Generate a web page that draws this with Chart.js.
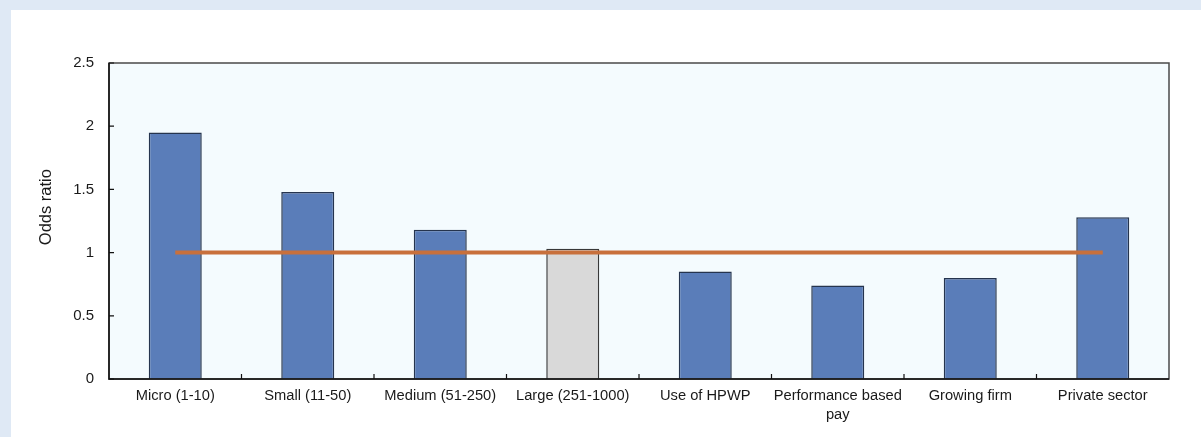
<!DOCTYPE html>
<html>
<head>
<meta charset="utf-8">
<script src="https://cdn.jsdelivr.net/npm/chart.js@4.4.1/dist/chart.umd.min.js"></script>
<style>
    html, body { margin: 0; padding: 0; background: #dfe9f5; overflow: hidden; }
    #panel { position: absolute; left: 11px; top: 10px; width: 1190px; height: 427px; background: #ffffff; }
    #chart { width: 1190px; height: 427px; }
</style>
</head>
<body>
<div id="panel"><canvas id="chart"></canvas></div>
<script>
// Odds ratios
const categories = ['Micro (1-10)', 'Small (11-50)', 'Medium (51-250)', 'Large (251-1000)',
                    'Use of HPWP', ['Performance based', 'pay'], 'Growing firm', 'Private sector'];
const oddsRatio = [1.95, 1.48, 1.18, 1.03, 0.85, 0.74, 0.80, 1.28];
const referenceLine = [1, 1, 1, 1, 1, 1, 1, 1];
const yTicks = [0, 0.5, 1, 1.5, 2, 2.5];
const referenceCategory = 'Large (251-1000)';
const yTitle = 'Odds ratio';

const FONT = "'Liberation Sans', Arial, sans-serif";

const barFill = categories.map(c => c === referenceCategory ? '#d9d9d9' : '#5a7db9');
const barEdge = categories.map(c => c === referenceCategory ? '#383838' : '#25344e');

// plot background, frame, inward tick marks and the rotated axis title
const frame = {
    id: 'frame',
    beforeDraw(chart) {
        const { ctx, chartArea: a } = chart;
        ctx.save();
        ctx.fillStyle = '#f4fbfe';
        ctx.fillRect(a.left, a.top, a.right - a.left, a.bottom - a.top);
        ctx.restore();
    },
    afterDraw(chart) {
        const { ctx, chartArea: a, scales } = chart;
        ctx.save();
        ctx.lineWidth = 1.5;
        ctx.strokeStyle = '#4a4a4a';
        ctx.strokeRect(a.left, a.top, a.right - a.left, a.bottom - a.top);
        ctx.strokeStyle = '#111';
        ctx.beginPath();
        ctx.moveTo(a.left, a.top);
        ctx.lineTo(a.left, a.bottom);
        ctx.lineTo(a.right, a.bottom);
        ctx.stroke();

        ctx.lineWidth = 1.2;
        ctx.beginPath();
        yTicks.forEach(v => {
            const y = scales.y.getPixelForValue(v);
            ctx.moveTo(a.left, y);
            ctx.lineTo(a.left + 5, y);
        });
        for (let i = 1; i < categories.length; i++) {
            const x = (scales.x.getPixelForValue(i - 1) + scales.x.getPixelForValue(i)) / 2;
            ctx.moveTo(x, a.bottom);
            ctx.lineTo(x, a.bottom - 5);
        }
        ctx.stroke();

        const mid = scales.y.getPixelForValue(1.36);
        ctx.translate(35, mid);
        ctx.rotate(-Math.PI / 2);
        ctx.fillStyle = '#1a1a1a';
        ctx.font = `16.5px ${FONT}`;
        ctx.textAlign = 'center';
        ctx.textBaseline = 'middle';
        ctx.fillText(yTitle, 0, 0);
        ctx.restore();
    }
};

new Chart(document.getElementById('chart'), {
    data: {
        labels: categories,
        datasets: [
            { type: 'line', data: referenceLine, borderColor: '#c8703c', borderWidth: 4,
              pointRadius: 0, tension: 0, fill: false, order: 0 },
            { type: 'bar', data: oddsRatio, backgroundColor: barFill, borderColor: barEdge,
              borderWidth: 1.5, barPercentage: 0.4, categoryPercentage: 1.0, order: 1 }
        ]
    },
    options: {
        responsive: true,
        maintainAspectRatio: false,
        animation: false,
        layout: { padding: { left: 0, top: 53, right: 32, bottom: 0 } },
        plugins: { legend: { display: false }, tooltip: { enabled: false } },
        scales: {
            x: {
                offset: true,
                grid: { display: false, drawTicks: false },
                border: { display: false },
                ticks: { color: '#1a1a1a', padding: 7, maxRotation: 0, minRotation: 0, autoSkip: false,
                         font: { family: FONT, size: 14.7, lineHeight: 1.3 } },
                afterFit: s => { s.height = 58; }
            },
            y: {
                min: 0, max: 2.5,
                grid: { display: false, drawTicks: false },
                border: { display: false },
                ticks: { stepSize: 0.5, color: '#1a1a1a', padding: 15,
                         callback: v => String(v),
                         font: { family: FONT, size: 15 } },
                afterFit: s => { s.width = 98; }
            }
        }
    },
    plugins: [frame]
});
</script>
</body>
</html>
